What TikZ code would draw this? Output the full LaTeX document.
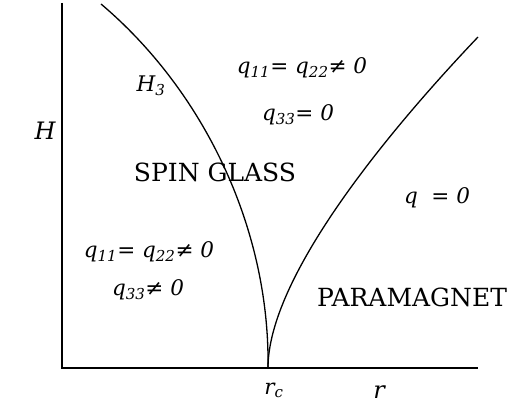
\documentclass[tikz,border=0pt]{standalone}
\usepackage{fontspec}
\setmainfont{DejaVu Serif}
\newcommand\qq[1]{q\textsubscript{#1}}
\begin{document}
\begin{tikzpicture}[x=1pt,y=-1pt,
  lbl/.style={inner sep=0pt, font=\fontsize{24}{28}\selectfont\itshape},
  eq/.style={inner sep=0pt, font=\fontsize{21.5}{25}\selectfont\itshape},
  rm/.style={inner sep=0pt, font=\fontsize{25}{30}\selectfont},
  axis/.style={line width=1.4pt},
  curve/.style={line width=1.3pt}]
\useasboundingbox (0,0) rectangle (518,406);
\coordinate (top) at (62,3);
\coordinate (org) at (62,368);
\coordinate (xend) at (478,368);
\coordinate (rc) at (268,368);
\coordinate (lstart) at (101,4);
\coordinate (rend) at (478,37);
\draw[axis] (top) -- (org) -- (xend);
\draw[curve] (lstart) .. controls (205,92) and (270,230) .. (rc);
\draw[curve] (rc) .. controls (268,280) and (380,140) .. (rend);
\node[lbl] (H) at (45,131) {H};
\node[eq] (H3) at (151,86) {H\textsubscript{3}};
\node[eq] (rcl) at (274,390) {r\textsubscript{c}};
\node[lbl] (rl) at (379,392) {r};
\node[eq] (e1) at (302,68) {\qq{11}= \qq{22}≠ 0};
\node[eq] (e2) at (298,115) {\qq{33}= 0};
\node[eq] (e3) at (149,252) {\qq{11}= \qq{22}≠ 0};
\node[eq] (e4) at (148,290) {\qq{33}≠ 0};
\node[eq] (e5) at (437,198) {q\ \ = 0};
\node[rm] (sg) at (215,172) {SPIN GLASS};
\node[rm] (pm) at (412,297) {PARAMAGNET};
\end{tikzpicture}
\end{document}
